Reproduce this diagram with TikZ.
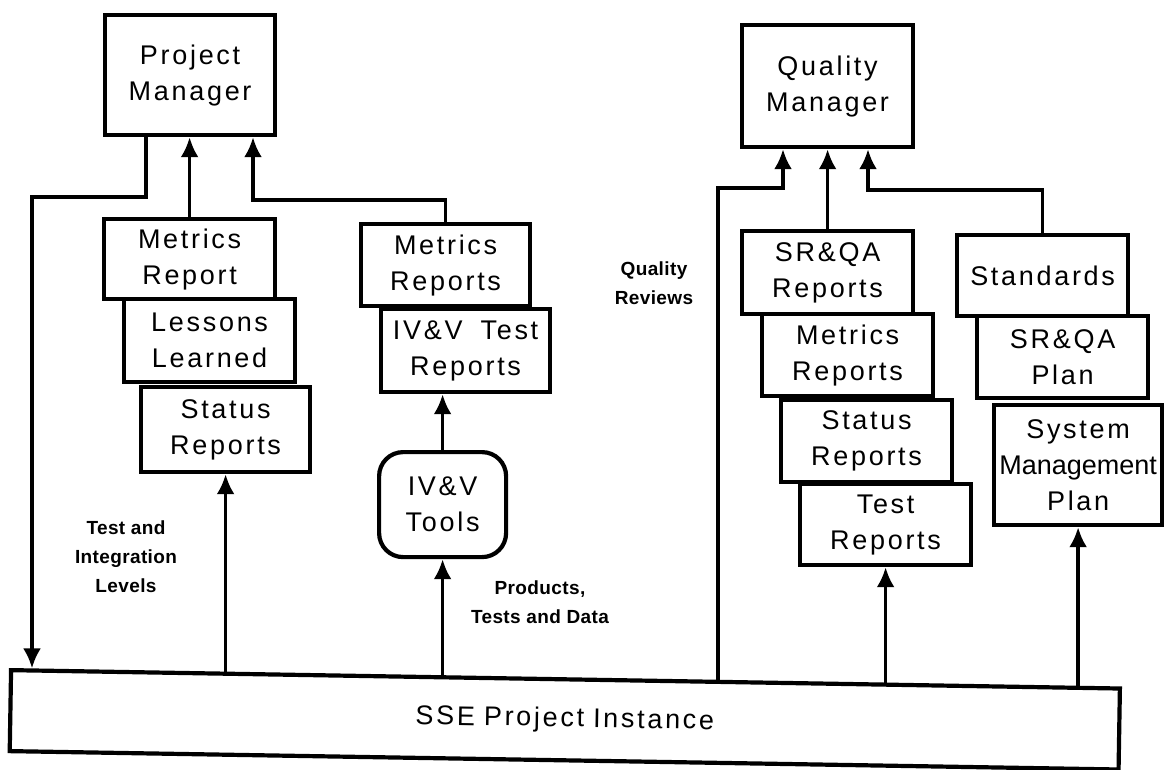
\documentclass[tikz,border=0pt]{standalone}
\usepackage{fontspec}
\setmainfont{Liberation Sans}
\newfontfamily\boxfont[LetterSpace=10]{Liberation Sans}
\newfontfamily\tightfont[LetterSpace=0]{Liberation Sans}
\newfontfamily\lblfont[LetterSpace=2]{Liberation Sans}
\usetikzlibrary{arrows.meta,calc}

\tikzset{
  doc/.style={draw, line width=4.2pt, fill=white, inner sep=0pt, anchor=north west,
    align=center, font=\boxfont\fontsize{27}{36}\selectfont},
  tool/.style={doc, rounded corners=24pt},
  link/.style={line width=3.6pt},
  flow/.style={link, -{Latex[length=20pt,width=18pt]}},
  lbl/.style={align=center, font=\lblfont\bfseries\fontsize{19}{29}\selectfont},
}
% box given by its top-left and bottom-right corners
\newcommand\docbox[7][doc]{%
  \node[#1, text width={(#5-#3)*1pt}, minimum height={(#6-#4)*1pt}] (#2) at (#3,#4) {#7};}

\begin{document}
\begin{tikzpicture}[x=1pt,y=-1pt]
\useasboundingbox (0,0) rectangle (1164,770);
\fill[white] (0,0) rectangle (1164,770);

% project management side
\docbox{pm}{103}{13}{273}{133}{Project\\Manager}
\docbox{mr}{102}{217}{273}{297}{Metrics\\Report}
\docbox{ll}{122}{297}{293}{380}{Lessons\\Learned}
\docbox{sr}{139}{385}{308}{470}{Status\\Reports}
\docbox{mrs}{359}{222}{528}{304}{Metrics\\Reports}
\docbox{ivt}{379}{307}{548}{390}{IV\&V\ \ Test\\Reports}
\docbox[tool]{tools}{377}{450}{504}{555}{IV\&V\\Tools}

% quality side
\docbox{qm}{740}{23}{911}{145}{Quality\\Manager}
\docbox{sqr}{740}{229}{911}{312}{SR\&QA\\Reports}
\docbox{qmr}{760}{312}{931}{394}{Metrics\\Reports}
\docbox{qsr}{779}{398}{950}{480}{Status\\Reports}
\docbox{tr}{798}{482}{969}{563}{Test\\Reports}
\docbox{std}{955}{233}{1126}{314}{Standards}
\docbox{sqp}{975}{314}{1146}{396}{SR\&QA\\Plan}
\docbox{smp}{992}{403}{1160}{523}{System\\{\tightfont Management}\\Plan}

% common base, drawn slightly tilted
\node[doc, rotate=-0.95, text width=1109pt, minimum height=81pt] (sse) at (9,668) {SSE Project Instance};

% side labels
\node[lbl] (til) at (126,557) {Test and\\Integration\\Levels};
\node[lbl] (ptd) at (540,602) {Products,\\Tests and Data};
\node[lbl] (qrv) at (654,283) {Quality\\Reviews};

% bend points of the routed connectors
\coordinate (lret) at (32,197);
\coordinate (pmB) at (253,200);
\coordinate (qrA) at (718,188);
\coordinate (qrB) at (783,188);
\coordinate (qrC) at (868,190);

% points on the top edge of the base
\coordinate (e1) at ($(sse.north west)!0.0207!(sse.north east)$);
\coordinate (e2) at ($(sse.north west)!0.193!(sse.north east)$);
\coordinate (e3) at ($(sse.north west)!0.3895!(sse.north east)$);
\coordinate (e4) at ($(sse.north west)!0.639!(sse.north east)$);
\coordinate (e5) at ($(sse.north west)!0.788!(sse.north east)$);
\coordinate (e6) at ($(sse.north west)!0.965!(sse.north east)$);

% connectors
\draw[flow] ([xshift=43pt]pm.south west) |- (lret) -- (lret |- e1);
\draw[flow] (mr.north) -- (mr.north |- pm.south);
\draw[flow] (mrs.north) |- (pmB) -- (pmB |- pm.south);
\draw[flow] (sr.south |- e2) -- (sr.south);
\draw[flow] (tools.north) -- (tools.north |- ivt.south);
\draw[flow] (tools.south |- e3) -- (tools.south);
\draw[flow] (qrA |- e4) -- (qrA) -- (qrB) -- (qrB |- qm.south);
\draw[flow] (sqr.north) -- (sqr.north |- qm.south);
\draw[flow] (std.north) |- (qrC) -- (qrC |- qm.south);
\draw[flow] (tr.south |- e5) -- (tr.south);
\draw[flow] (smp.south |- e6) -- (smp.south);
\end{tikzpicture}
\end{document}
